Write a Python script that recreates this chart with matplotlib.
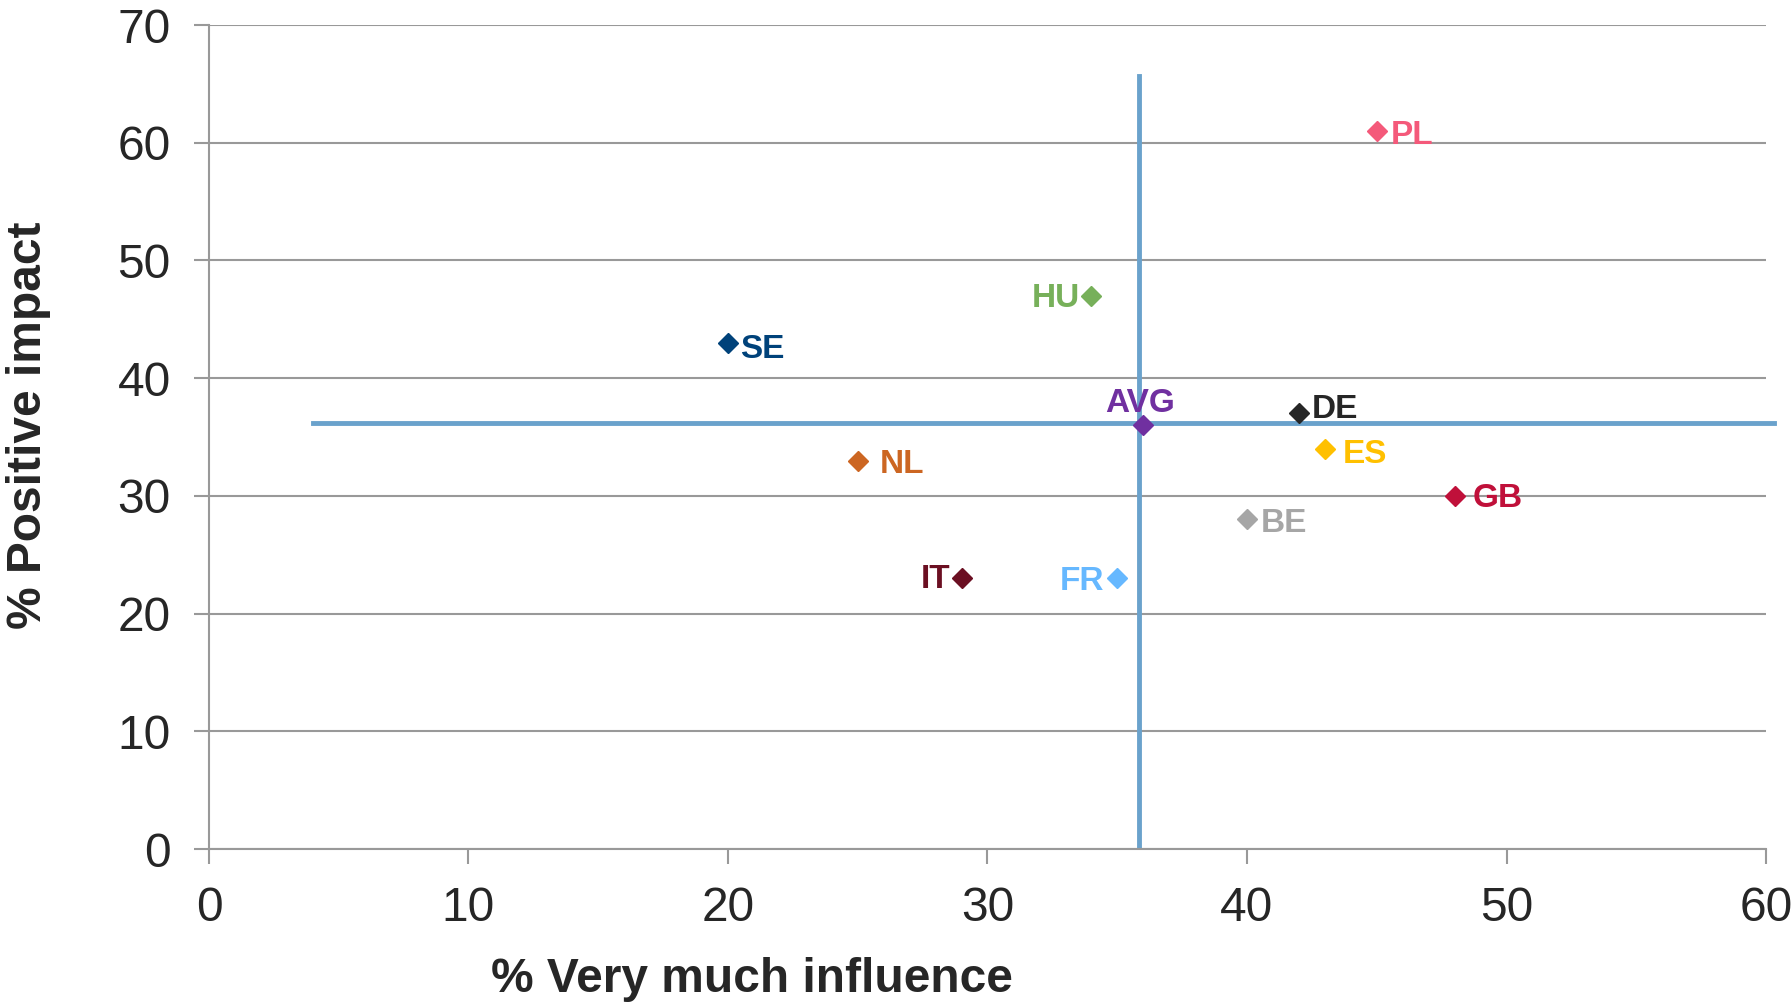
import matplotlib.pyplot as plt

plt.rcParams['font.family'] = ['Liberation Sans', 'DejaVu Sans']

countries = ['SE', 'HU', 'PL', 'AVG', 'DE', 'ES', 'NL', 'GB', 'BE', 'IT', 'FR']
influence = [20, 34, 45, 36, 42, 43, 25, 48, 40, 29, 35]
positive = [43, 47, 61, 36, 37, 34, 33, 30, 28, 23, 23]
colors = ['#00427a', '#77b05a', '#f4597a', '#7030a0', '#262626', '#ffc000',
          '#cc6622', '#c0103a', '#a6a6a6', '#6b0f22', '#66b8ff']
# label placement: (dx, dy) offsets in points and alignment
offsets = {
    'SE': (9, -5, 'left'), 'HU': (-8, -2, 'right'), 'PL': (10, -3, 'left'),
    'AVG': (-2, 16, 'center'), 'DE': (9, 3, 'left'), 'ES': (13, -4, 'left'),
    'NL': (16, -3, 'left'), 'GB': (13, -2, 'left'), 'BE': (10, -3, 'left'),
    'IT': (-8, -1, 'right'), 'FR': (-9, -2, 'right'),
}
avg_x = 35.85
avg_y = 36.2

fig = plt.figure(figsize=(17.92, 10.05), dpi=100)
ax = fig.add_axes([0.1166, 0.1552, 0.8689, 0.8199])

ax.set_xlim(0, 60)
ax.set_ylim(0, 70)
ax.set_xticks(range(0, 61, 10))
ax.set_yticks(range(0, 71, 10))
ax.grid(axis='y', color='#999999', linewidth=1.5)
ax.set_axisbelow(True)
for s in ['top', 'right']:
    ax.spines[s].set_visible(False)
for s in ['left', 'bottom']:
    ax.spines[s].set_color('#999999')
    ax.spines[s].set_linewidth(1.5)
ax.tick_params(length=10.5, width=1.5, color='#999999', labelsize=34.5,
               labelcolor='#262626')
ax.tick_params(axis='y', pad=17)
ax.tick_params(axis='x', pad=16)

# average cross lines
ax.plot([avg_x, avg_x], [0, 65.7], color='#6aa2cc', linewidth=3.5, zorder=2)
ax.plot([4, 60.3], [avg_y, avg_y], color='#6aa2cc', linewidth=3.5, zorder=2,
        clip_on=False)

for c, x, y, col in zip(countries, influence, positive, colors):
    ax.plot(x, y, marker='D', markersize=10, color=col, linestyle='none', zorder=3)
    dx, dy, ha = offsets[c]
    ax.annotate(c, (x, y), xytext=(dx, dy), textcoords='offset points',
                ha=ha, va='center', fontsize=24, fontweight='bold', color=col)

fig.text(0.4196, 0.013, '% Very much influence', fontsize=34.5, fontweight='bold',
         color='#262626', ha='center', va='baseline')
fig.text(0.016, 0.577, '% Positive impact', fontsize=34.5, fontweight='bold',
         color='#262626', ha='center', va='center', rotation=90)

plt.savefig('out.png')
